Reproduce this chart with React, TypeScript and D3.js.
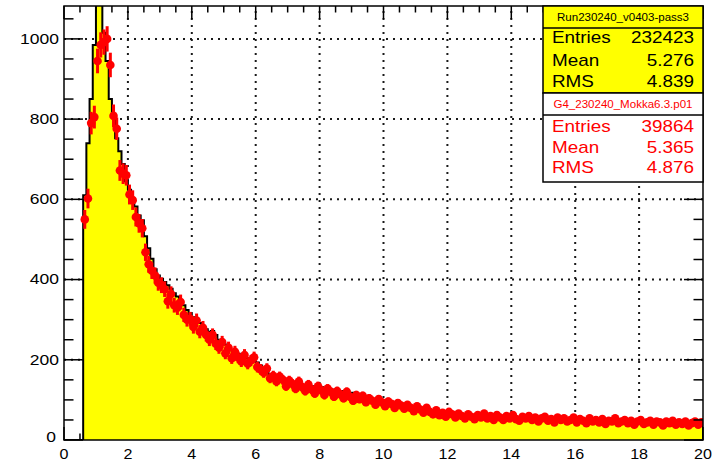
import React from "react";
import * as d3 from "d3";

// Canvas and plot frame
const W = 713;
const H = 466;
const frameLeft = 64;
const frameRight = 703;
const frameTop = 6;
const frameBottom = 440;

// Histogram binning (0.1 wide bins, first filled bin starts at 0.6)
const firstBinLow = 0.6;
const binWidth = 0.1;

// Measured data: counts per bin
const dataCounts = [
  610, 740, 850, 985, 1150, 1105, 1015, 945, 850, 810,
  752, 720, 688, 645, 624, 600, 582, 560, 548, 508,
  478, 452, 426, 410, 402, 394, 386, 377, 366, 358,
  346, 336, 324, 312, 306, 298, 292, 284, 276, 270,
  272, 262, 250, 246, 238, 230, 224, 219, 215, 212,
  208, 204, 203, 198, 193, 186, 176, 168, 163, 160,
  155, 151, 148, 146, 144, 141, 142, 139, 137, 138,
  135, 134, 131, 130, 132, 128, 126, 127, 123, 121,
  122, 119, 117, 116, 118, 113, 110, 108, 106, 104,
  102, 100, 98, 97, 99, 96, 94, 93, 92, 91,
  88, 86, 84, 82, 80, 78, 76, 74, 72, 70,
  69, 68, 67, 66, 65, 66, 64, 63, 64, 62,
  62, 61, 62, 60, 61, 60, 59, 60, 58, 58,
  57, 58, 57, 56, 57, 56, 55, 56, 54, 55,
  54, 53, 54, 53, 52, 53, 52, 51, 52, 50,
  51, 50, 49, 50, 49, 48, 49, 48, 47, 48,
  47, 46, 47, 46, 46, 45, 46, 45, 44, 45,
  44, 45, 43, 44, 43, 44, 42, 43, 42, 43,
  41, 42, 41, 42, 40, 41, 40, 41, 40, 39,
  40, 39, 40, 39,
];

// Simulation: normalised counts per bin
const simCounts = [
  550, 602, 790, 805, 945, 985, 992, 1000, 935, 808,
  776, 672, 664, 660, 612, 598, 556, 540, 528, 468,
  438, 422, 410, 392, 386, 376, 346, 364, 336, 330,
  344, 312, 300, 302, 282, 298, 270, 280, 262, 250,
  262, 240, 230, 244, 216, 230, 204, 220, 206, 196,
  212, 190, 198, 206, 182, 176, 168, 178, 154, 160,
  146, 158, 150, 134, 148, 140, 128, 146, 132, 122,
  138, 126, 116, 134, 124, 112, 128, 120, 108, 122,
  114, 104, 120, 108, 98, 112, 102, 110, 94, 104,
  98, 88, 102, 94, 84, 96, 90, 80, 92, 86,
  78, 88, 80, 72, 84, 76, 68, 80, 70, 64,
  74, 62, 68, 58, 70, 64, 56, 66, 60, 54,
  64, 58, 52, 62, 56, 66, 54, 60, 50, 62,
  56, 50, 60, 54, 62, 52, 48, 58, 54, 60,
  50, 56, 46, 54, 58, 48, 52, 44, 56, 50,
  54, 46, 50, 56, 44, 52, 48, 42, 54, 46,
  50, 44, 52, 40, 48, 46, 54, 42, 46, 50,
  42, 48, 38, 46, 50, 40, 44, 48, 38, 46,
  44, 36, 46, 42, 48, 38, 44, 40, 46, 36,
  42, 46, 38, 44,
];

// Axis tick labels
const xTickValues = [0, 2, 4, 6, 8, 10, 12, 14, 16, 18, 20];
const xTickLabels = ["0", "2", "4", "6", "8", "10", "12", "14", "16", "18", "20"];
const yTickValues = [0, 200, 400, 600, 800, 1000];
const yTickLabels = ["0", "200", "400", "600", "800", "1000"];

// Statistics boxes
const statNames = ["Entries", "Mean", "RMS"];
const dataTitle = "Run230240_v0403-pass3";
const dataStatValues = ["232423", "5.276", "4.839"];
const simTitle = "G4_230240_Mokka6.3.p01";
const simStatValues = ["39864", "5.365", "4.876"];

const FONT = "'Liberation Sans', Arial, Helvetica, sans-serif";

function SText(props: {
  x: number;
  y: number;
  sx: number;
  size: number;
  anchor: "start" | "middle" | "end";
  fill: string;
  children: React.ReactNode;
}) {
  const { x, y, sx, size, anchor, fill, children } = props;
  return (
    <text
      transform={`translate(${x},${y}) scale(${sx},1)`}
      textAnchor={anchor}
      dominantBaseline="central"
      fontSize={size}
      fontFamily={FONT}
      fill={fill}
    >
      {children}
    </text>
  );
}

export default function App() {
  const x = d3.scaleLinear().domain([0, 20]).range([frameLeft, frameRight]);
  const y = d3.scaleLinear().domain([0, 1082]).range([frameBottom, frameTop]);

  const binLow = (i: number) => firstBinLow + i * binWidth;

  // Step outline of the filled histogram
  const pts: [number, number][] = [[0, 0], [firstBinLow, 0]];
  dataCounts.forEach((v, i) => {
    pts.push([binLow(i), v]);
    pts.push([binLow(i) + binWidth, v]);
  });
  pts.push([20, 0]);
  const stepPath = d3
    .line<[number, number]>()
    .x((d) => x(d[0]))
    .y((d) => y(d[1]))(pts) as string;

  const xMinor = d3.range(0, 20.001, 0.5);
  const yMinor = d3.range(0, 1081, 50);
  const gridX = xTickValues.filter((v) => v > 0 && v < 20);
  const gridY = yTickValues.filter((v) => v > 0);

  const xMajorLen = 13;
  const xMinorLen = 6.5;
  const yMajorLen = 19;
  const yMinorLen = 9.5;

  const boxL = 543;
  const boxR = frameRight;
  const box1Top = frameTop;
  const box1Sep = 28;
  const box1Bot = 93;
  const box2Sep = 115;
  const box2Bot = 182;
  const box1Rows = [38, 61, 82];
  const box2Rows = [127, 148, 168];

  return (
    <svg width={W} height={H} style={{ display: "block", position: "absolute", left: 0, top: 0 }}>
      <defs>
        <clipPath id="frameClip">
          <rect x={frameLeft} y={frameTop} width={frameRight - frameLeft} height={frameBottom - frameTop} />
        </clipPath>
      </defs>
      <rect x={0} y={0} width={W} height={H} fill="#ffffff" />

      {/* dotted grid */}
      <g stroke="#1a1a1a" strokeWidth={2} strokeDasharray="2 5" fill="none">
        {gridX.map((v) => (
          <line key={`gx${v}`} x1={x(v)} x2={x(v)} y1={frameBottom} y2={frameTop} />
        ))}
        {gridY.map((v) => (
          <line key={`gy${v}`} x1={frameLeft} x2={frameRight} y1={y(v)} y2={y(v)} />
        ))}
      </g>

      {/* bottom axis ticks (under the fill) */}
      <g stroke="#000" strokeWidth={1.5}>
        {xMinor.map((v) => {
          const major = Math.abs(v / 2 - Math.round(v / 2)) < 1e-6;
          return (
            <line key={`bt${v}`} x1={x(v)} x2={x(v)} y1={frameBottom} y2={frameBottom - (major ? xMajorLen : xMinorLen)} />
          );
        })}
      </g>

      {/* data histogram */}
      <g clipPath="url(#frameClip)">
        <path d={stepPath} fill="#ffff00" stroke="none" />
        <path d={stepPath} fill="none" stroke="#000" strokeWidth={2} />
      </g>

      {/* simulation points with error bars */}
      <g clipPath="url(#frameClip)" fill="#ff0000" stroke="none">
        {simCounts.map((v, i) => {
          const cx = x(binLow(i) + binWidth / 2);
          const err = Math.sqrt(v);
          return (
            <g key={`s${i}`}>
              <rect x={cx - 1.5} y={y(v + err)} width={3} height={y(v - err) - y(v + err)} />
              <rect x={x(binLow(i)) - 1} y={y(v) - 1.5} width={x(binLow(i) + binWidth) - x(binLow(i)) + 2} height={3} />
              <circle cx={cx} cy={y(v)} r={4.3} />
            </g>
          );
        })}
      </g>

      {/* frame */}
      <rect
        x={frameLeft}
        y={frameTop}
        width={frameRight - frameLeft}
        height={frameBottom - frameTop}
        fill="none"
        stroke="#000"
        strokeWidth={1.5}
      />

      {/* top, left and right ticks */}
      <g stroke="#000" strokeWidth={1.5}>
        {xMinor.map((v) => {
          const major = Math.abs(v / 2 - Math.round(v / 2)) < 1e-6;
          return (
            <line key={`tt${v}`} x1={x(v)} x2={x(v)} y1={frameTop} y2={frameTop + (major ? xMajorLen : xMinorLen)} />
          );
        })}
        {yMinor.map((v) => {
          const major = v % 200 === 0;
          const len = major ? yMajorLen : yMinorLen;
          return (
            <g key={`yt${v}`}>
              <line x1={frameLeft} x2={frameLeft + len} y1={y(v)} y2={y(v)} />
              <line x1={frameRight} x2={frameRight - len} y1={y(v)} y2={y(v)} />
            </g>
          );
        })}
      </g>

      {/* tick labels */}
      {yTickValues.map((v, i) => (
        <SText key={`yl${v}`} x={v === 0 ? 56 : 59} y={y(v) - (v === 0 ? 3 : 0)} sx={1.25} size={14} anchor="end" fill="#000">
          {yTickLabels[i]}
        </SText>
      ))}
      {xTickValues.map((v, i) => (
        <SText key={`xl${v}`} x={x(v)} y={454} sx={1.15} size={14} anchor="middle" fill="#000">
          {xTickLabels[i]}
        </SText>
      ))}

      {/* statistics box: data */}
      <rect x={boxL} y={box1Top} width={boxR - boxL} height={box1Bot - box1Top} fill="#ffff00" stroke="#000" strokeWidth={1.5} />
      <line x1={boxL} x2={boxR} y1={box1Sep} y2={box1Sep} stroke="#000" strokeWidth={1.5} />
      <SText x={(boxL + boxR) / 2} y={(box1Top + box1Sep) / 2} sx={1.1} size={10.5} anchor="middle" fill="#000">
        {dataTitle}
      </SText>
      {statNames.map((n, i) => (
        <g key={`d${n}`}>
          <SText x={552} y={box1Rows[i]} sx={1.18} size={16} anchor="start" fill="#000">
            {n}
          </SText>
          <SText x={694} y={box1Rows[i]} sx={1.18} size={16} anchor="end" fill="#000">
            {dataStatValues[i]}
          </SText>
        </g>
      ))}

      {/* statistics box: simulation */}
      <rect x={boxL} y={box1Bot} width={boxR - boxL} height={box2Bot - box1Bot} fill="#ffffff" stroke="#000" strokeWidth={1.5} />
      <line x1={boxL} x2={boxR} y1={box2Sep} y2={box2Sep} stroke="#000" strokeWidth={1.5} />
      <SText x={(boxL + boxR) / 2} y={(box1Bot + box2Sep) / 2} sx={1.1} size={10.5} anchor="middle" fill="#ff0000">
        {simTitle}
      </SText>
      {statNames.map((n, i) => (
        <g key={`s${n}`}>
          <SText x={552} y={box2Rows[i]} sx={1.18} size={16} anchor="start" fill="#ff0000">
            {n}
          </SText>
          <SText x={694} y={box2Rows[i]} sx={1.18} size={16} anchor="end" fill="#ff0000">
            {simStatValues[i]}
          </SText>
        </g>
      ))}
    </svg>
  );
}
